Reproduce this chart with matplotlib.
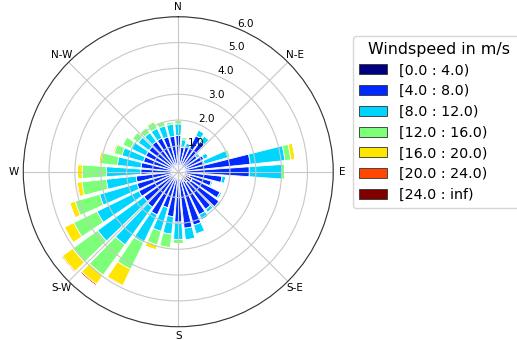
import numpy as np
import matplotlib
matplotlib.use("Agg")
import matplotlib.pyplot as plt
from matplotlib.patches import Patch

# wind directions (deg, clockwise from north), 36 sectors
directions = np.arange(0, 360, 10)

# frequency (%) per speed bin, one value per direction sector
speed_0_4 = [.15, .15, .15, .15, .15, .15, .15, .15, .20, .20, .30, .45,
             .60, .60, .50, .40, .30, .25, .20, .20, .20, .20, .20, .20,
             .20, .20, .20, .20, .20, .20, .20, .20, .20, .20, .20, .15]
speed_4_8 = [1.25, .80, .85, 1.40, 1.30, .75, .95, .90, 2.60, 2.55, 1.40, .88,
             1.20, 1.35, 1.30, 1.45, 1.85, 1.95, 1.75, 1.55, 1.25, 1.66, 1.50, 1.45,
             1.50, 1.46, 1.44, 1.25, 1.25, 1.20, 1.20, 1.20, 1.25, 1.25, 1.20, 1.23]
speed_8_12 = [.45, .30, .15, .25, .27, .15, .20, .95, 1.35, 1.25, .15, .07,
              .08, .10, .15, .23, .35, .45, .67, .68, .95, 1.20, 1.80, 2.21,
              1.80, 1.51, 1.16, 1.33, .92, .87, .65, .52, .42, .42, .45, .47]
speed_12_16 = [.13, .10, .03, 0, 0, 0, 0, .10, .23, .13, 0, 0,
               0, 0, 0, 0, .05, .05, .18, .52, .55, 1.14, 1.45, 1.19,
               1.00, .98, .95, .94, .63, .31, .35, .28, .25, .28, .20, .10]
speed_16_20 = [0, 0, 0, 0, 0, 0, 0, 0, .17, 0, 0, 0,
               0, 0, 0, 0, 0, 0, 0, .05, .20, .70, .43, .50,
               .40, .22, .18, .18, .10, .06, 0, 0, 0, .05, 0, 0]
speed_20_24 = [0, 0, 0, 0, 0, 0, 0, 0, 0, 0, 0, 0,
               0, 0, 0, 0, 0, 0, 0, 0, 0, .04, .07, .05,
               .03, 0, .04, 0, 0, 0, 0, 0, 0, 0, 0, 0]
speed_24_inf = [0] * 36

bins = [speed_0_4, speed_4_8, speed_8_12, speed_12_16,
        speed_16_20, speed_20_24, speed_24_inf]
bin_labels = ['[0.0 : 4.0)', '[4.0 : 8.0)', '[8.0 : 12.0)', '[12.0 : 16.0)',
              '[16.0 : 20.0)', '[20.0 : 24.0)', '[24.0 : inf)']
compass = ['N', 'N-E', 'E', 'S-E', 'S', 'S-W', 'W', 'N-W']

colors = plt.cm.jet(np.linspace(0, 1, len(bins)))

fig = plt.figure(figsize=(5.17, 3.40), dpi=100)
ax = fig.add_axes([0.045, 0.039, 0.5996, 0.9118], projection='polar')
ax.set_theta_zero_location('N')
ax.set_theta_direction(-1)

theta = np.radians(directions)
width = np.radians(10) * 0.8
offset = np.zeros(len(directions))
for vals, c in zip(bins, colors):
    vals = np.array(vals)
    ax.bar(theta, vals, width=width, bottom=offset, color=c,
           edgecolor='white', linewidth=0.6)
    offset = offset + vals

ax.set_ylim(0, 6)
ax.set_rgrids([1, 2, 3, 4, 5, 6], labels=['1.0', '2.0', '3.0', '4.0', '5.0', '6.0'],
              angle=22.5, fontsize=7.5)
ax.set_thetagrids(np.arange(0, 360, 45), labels=compass, fontsize=7.5)
ax.tick_params(axis='x', pad=-3.7)
ax.grid(True, color='#c8c8c8', linewidth=0.8)
ax.spines['polar'].set_color('#333333')
ax.spines['polar'].set_linewidth(0.8)

handles = [Patch(facecolor=c, edgecolor='#333333', linewidth=0.6) for c in colors]
fig.legend(handles, bin_labels, title='Windspeed in m/s', loc='upper left',
           bbox_to_anchor=(0.683, 0.0, 0.333, 0.894), mode='expand',
           borderaxespad=0, fontsize=10.3, title_fontsize=11.4,
           labelspacing=0.47)

fig.savefig('out.png', dpi=100)
